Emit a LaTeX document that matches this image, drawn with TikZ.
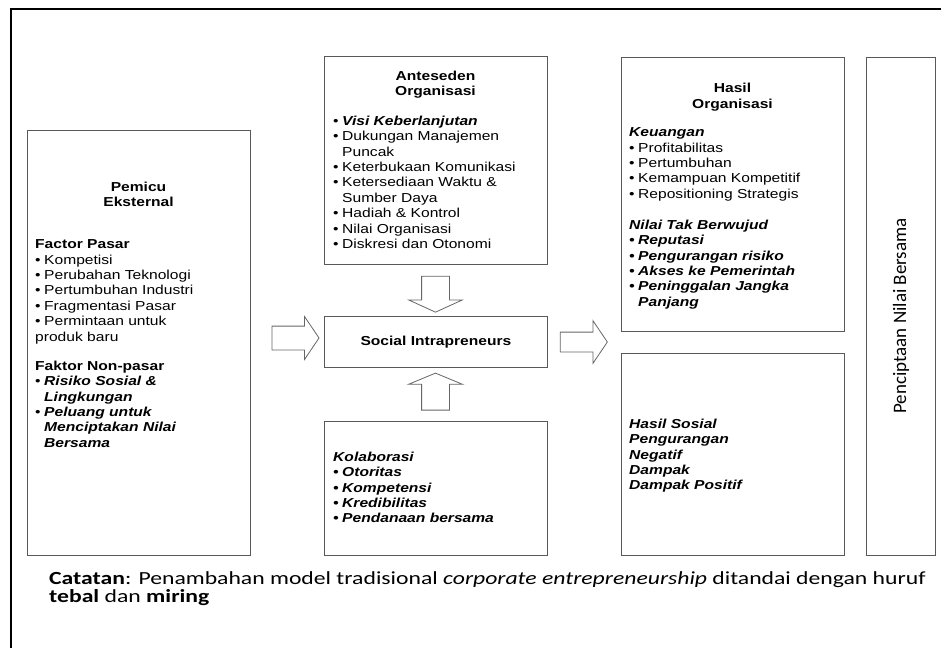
\documentclass[tikz,border=0pt]{standalone}
\usepackage{fontspec}
\setmainfont{Liberation Sans}[FakeStretch=1.2]
\newfontfamily\catfont{Carlito}[FakeStretch=1.28]
\newfontfamily\ciptafont{Carlito}
\usetikzlibrary{shapes.arrows}

\tikzset{
  kotak/.style={draw=black!65, line width=0.9pt, fill=white, inner sep=0pt, anchor=north west},
  isi/.style={inner sep=0pt, anchor=north west, align=left, font=\fontsize{13}{15.4}\selectfont},
  judul/.style={inner sep=0pt, anchor=north, align=center, font=\fontsize{13}{15.2}\selectfont\bfseries},
  panah/.style={single arrow, draw=black!60, line width=0.8pt, fill=white, inner sep=0pt},
  catatan/.style={inner sep=0pt, anchor=base west, font=\catfont\fontsize{18.5}{19}\selectfont}
}
\newcommand{\bul}[1]{\makebox[9pt][l]{\textbullet}#1}
\newcommand{\ind}[1]{\hspace*{9pt}#1}

\begin{document}
\begin{tikzpicture}[x=1pt,y=-1pt]
            \useasboundingbox (0,0) rectangle (941,647);

            % Outer frame
            \draw[line width=2pt] (11,660) -- (11,9) -- (950,9);

            % Boxes
            \node[kotak, minimum width=223, minimum height=425] (pemicu) at (27,130) {};
            \node[kotak, minimum width=223, minimum height=208] (anteseden) at (324,56) {};
            \node[kotak, minimum width=223, minimum height=51] (sosint) at (324,316) {};
            \node[kotak, minimum width=223, minimum height=134] (kolab) at (324,421) {};
            \node[kotak, minimum width=223, minimum height=274] (hasilorg) at (621,57) {};
            \node[kotak, minimum width=223, minimum height=202] (hasilsos) at (621,353) {};
            \node[kotak, minimum width=69, minimum height=498] (cipta) at (866,57) {};

            % Pemicu Eksternal
            \node[judul] (pemicuJ) at (138.5,181.6) {Pemicu\\Eksternal};
            \node[isi] (pasar) at (35,239.6) {\textbf{Factor Pasar}\\
              \bul{Kompetisi}\\
              \bul{Perubahan Teknologi}\\
              \bul{Pertumbuhan Industri}\\
              \bul{Fragmentasi Pasar}\\
              \bul{Permintaan untuk}\\
              produk baru};
            \node[isi] (nonpasar) at (35,360.6) {\textbf{Faktor Non-pasar}\\
              \bul{\textbf{\textit{Risiko Sosial \&}}}\\
              \ind{\textbf{\textit{Lingkungan}}}\\
              \bul{\textbf{\textit{Peluang untuk}}}\\
              \ind{\textbf{\textit{Menciptakan Nilai}}}\\
              \ind{\textbf{\textit{Bersama}}}};

            % Anteseden Organisasi
            \node[judul] (antesedenJ) at (435.5,70.6) {Anteseden\\Organisasi};
            \node[isi] (antesedenL) at (333,115.6) {\bul{\textbf{\textit{Visi Keberlanjutan}}}\\
              \bul{Dukungan Manajemen}\\
              \ind{Puncak}\\
              \bul{Keterbukaan Komunikasi}\\
              \bul{Ketersediaan Waktu \&}\\
              \ind{Sumber Daya}\\
              \bul{Hadiah \& Kontrol}\\
              \bul{Nilai Organisasi}\\
              \bul{Diskresi dan Otonomi}};

            % Social Intrapreneurs
            \node[font=\fontsize{13}{15}\selectfont\bfseries] (sosintT) at (sosint.center) {Social Intrapreneurs};

            % Kolaborasi
            \node[isi, font=\fontsize{13}{15.4}\selectfont\bfseries\itshape] (kolabL) at (333,451.6) {Kolaborasi\\
              \bul{Otoritas}\\
              \bul{Kompetensi}\\
              \bul{Kredibilitas}\\
              \bul{Pendanaan bersama}};

            % Hasil Organisasi
            \node[judul] (hasilorgJ) at (732.5,83.3) {Hasil\\Organisasi};
            \node[isi] (keuangan) at (629,127.6) {\textbf{\textit{Keuangan}}\\
              \bul{Profitabilitas}\\
              \bul{Pertumbuhan}\\
              \bul{Kemampuan Kompetitif}\\
              \bul{Repositioning Strategis}};
            \node[isi, font=\fontsize{13}{15.4}\selectfont\bfseries\itshape] (takwujud) at (629,219.6) {Nilai Tak Berwujud\\
              \bul{Reputasi}\\
              \bul{Pengurangan risiko}\\
              \bul{Akses ke Pemerintah}\\
              \bul{Peninggalan Jangka}\\
              \ind{Panjang}};

            % Hasil Sosial
            \node[isi, font=\fontsize{13}{15.4}\selectfont\bfseries\itshape] (hasilsosL) at (629,418.6) {Hasil Sosial\\
              Pengurangan\\
              Negatif\\
              Dampak\\
              Dampak Positif};

            % Penciptaan Nilai Bersama
            \node[rotate=90, inner sep=0pt, font=\ciptafont\fontsize{19}{22}\selectfont] (ciptaT) at (901,316) {Penciptaan Nilai Bersama};

            % Block arrows
            \node[panah, minimum height=47, inner ysep=11.5, single arrow head extend=9.5, single arrow tip angle=112] (ke1) at (291.5,338) {};
            \node[panah, minimum height=47, inner ysep=9.5, single arrow head extend=11.5, single arrow tip angle=112] (ke2) at (580.5,342) {};
            \node[panah, minimum height=36, inner xsep=13.5, single arrow head extend=13, single arrow tip angle=131, shape border rotate=270] (ke3) at (435.5,291) {};
            \node[panah, minimum height=37, inner xsep=13.5, single arrow head extend=13, single arrow tip angle=135, shape border rotate=90] (ke4) at (435.5,394.5) {};

            % Catatan
            \node[catatan] (catatan1) at (49,584) {\textbf{Catatan}: Penambahan model tradisional \textit{corporate entrepreneurship} ditandai dengan huruf};
            \node[catatan] (catatan2) at (49,602.5) {\textbf{tebal} dan \textbf{miring}};

        \end{tikzpicture}
\end{document}
